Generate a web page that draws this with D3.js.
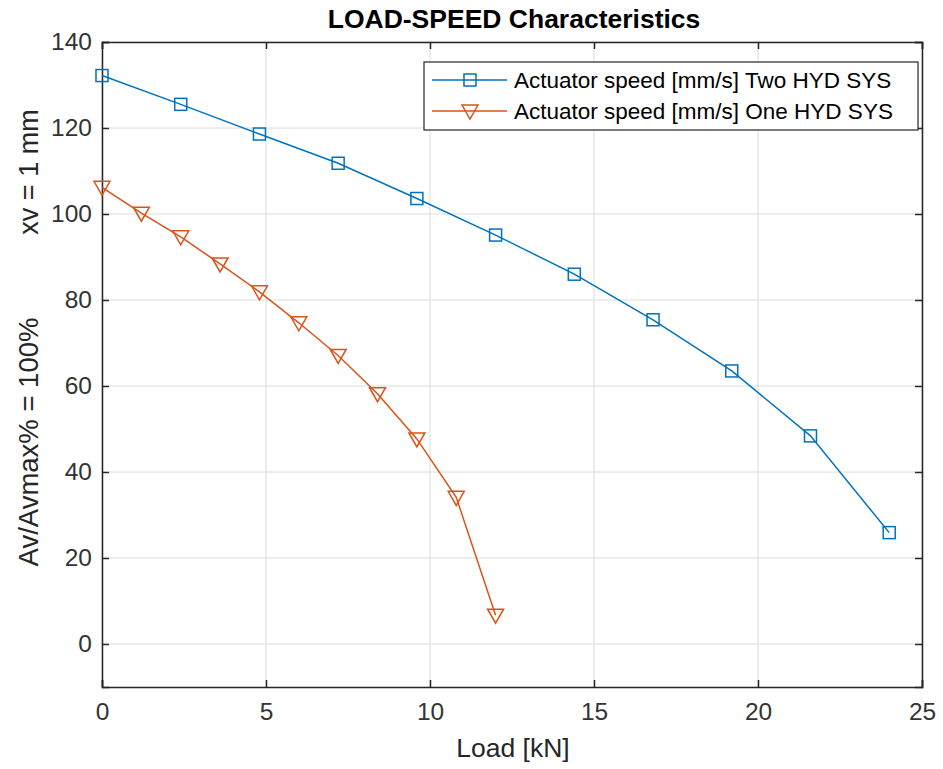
<!DOCTYPE html>
<html><head><meta charset="utf-8">
<script src="https://cdn.jsdelivr.net/npm/d3@7"></script>
<style>body{margin:0;background:#fff;} text{font-family:"Liberation Sans",Arial,sans-serif;}</style>
</head><body>
<svg id="c" width="943" height="769"></svg>
<script>
const loadTwo = [0, 2.4, 4.8, 7.2, 9.6, 12, 14.4, 16.8, 19.2, 21.6, 24];
const speedTwo = [132.2, 125.5, 118.6, 111.8, 103.6, 95.1, 86.0, 75.4, 63.5, 48.4, 25.9];
const loadOne = [0, 1.2, 2.4, 3.6, 4.8, 6.0, 7.2, 8.4, 9.6, 10.8, 12];
const speedOne = [106.2, 100.2, 94.7, 88.4, 81.9, 74.7, 67.1, 58.2, 47.7, 34.1, 6.7];
const xTicks = [0, 5, 10, 15, 20, 25];
const yTicks = [0, 20, 40, 60, 80, 100, 120, 140];
const seriesNames = ["Actuator speed [mm/s] Two HYD SYS", "Actuator speed [mm/s] One HYD SYS"];
const colors = ["#0072BD", "#D95319"];

const svg = d3.select("#c");
const L = 102, R = 922, T = 42, B = 687;
const x = d3.scaleLinear().domain([0, 25]).range([L, R]);
const y = d3.scaleLinear().domain([-10, 140]).range([B, T]);

// grid
const g = svg.append("g");
g.selectAll(".gx").data(xTicks).enter().append("line")
  .attr("x1", d => x(d)).attr("x2", d => x(d)).attr("y1", T).attr("y2", B)
  .attr("stroke", "#dcdcdc").attr("stroke-width", 1);
g.selectAll(".gy").data(yTicks).enter().append("line")
  .attr("x1", L).attr("x2", R).attr("y1", d => y(d)).attr("y2", d => y(d))
  .attr("stroke", "#dcdcdc").attr("stroke-width", 1);

// axes
const xAxis = d3.axisBottom(x).tickValues(xTicks).tickSize(-7).tickPadding(16).tickFormat(d3.format("d"));
const xAxisTop = d3.axisTop(x).tickValues(xTicks).tickSize(-7).tickFormat("");
const yAxis = d3.axisLeft(y).tickValues(yTicks).tickSize(-7).tickPadding(10).tickFormat(d3.format("d"));
const yAxisR = d3.axisRight(y).tickValues(yTicks).tickSize(-7).tickFormat("");
function style(sel){
  sel.select(".domain").attr("stroke", "#262626").attr("stroke-width", 1.5);
  sel.selectAll(".tick line").attr("stroke", "#262626").attr("stroke-width", 1.5);
  sel.selectAll(".tick text").attr("fill", "#333333").attr("font-size", "24.5px")
    .style("font-family", "Liberation Sans, Arial, sans-serif");
}
svg.append("g").attr("transform", `translate(0,${B})`).call(xAxis).call(style);
svg.append("g").attr("transform", `translate(0,${T})`).call(xAxisTop).call(style);
svg.append("g").attr("transform", `translate(${L},0)`).call(yAxis).call(style);
svg.append("g").attr("transform", `translate(${R},0)`).call(yAxisR).call(style);

// lines
const line = d3.line().x(d => x(d[0])).y(d => y(d[1]));
const dTwo = loadTwo.map((v, i) => [v, speedTwo[i]]);
const dOne = loadOne.map((v, i) => [v, speedOne[i]]);
svg.append("path").datum(dTwo).attr("d", line).attr("fill", "none").attr("stroke", colors[0]).attr("stroke-width", 1.5);
svg.append("path").datum(dOne).attr("d", line).attr("fill", "none").attr("stroke", colors[1]).attr("stroke-width", 1.5);

function square(sel, cx, cy, c){
  sel.append("rect").attr("x", cx - 6).attr("y", cy - 6).attr("width", 12).attr("height", 12)
    .attr("fill", "none").attr("stroke", c).attr("stroke-width", 1.5);
}
function tri(sel, cx, cy, c){
  sel.append("path").attr("d", `M${cx-8},${cy-6}L${cx+8},${cy-6}L${cx},${cy+8}Z`)
    .attr("fill", "none").attr("stroke", c).attr("stroke-width", 1.5);
}
dTwo.forEach(d => square(svg, x(d[0]), y(d[1]), colors[0]));
dOne.forEach(d => tri(svg, x(d[0]), y(d[1]), colors[1]));

// title & labels
svg.append("text").attr("x", 514).attr("y", 28).attr("text-anchor", "middle")
  .attr("font-size", "26.5px").attr("font-weight", "bold").attr("fill", "#000").text("LOAD-SPEED Characteristics");
svg.append("text").attr("x", 513).attr("y", 757).attr("text-anchor", "middle")
  .attr("font-size", "26.5px").attr("fill", "#262626").text("Load [kN]");
svg.append("text").attr("transform", "translate(38,442) rotate(-90)").attr("text-anchor", "middle")
  .attr("font-size", "27.5px").attr("fill", "#262626").text("Av/Avmax% = 100%");
svg.append("text").attr("transform", "translate(38,172) rotate(-90)").attr("text-anchor", "middle")
  .attr("font-size", "27px").attr("fill", "#262626").text("xv = 1 mm");

// legend
const lg = svg.append("g");
lg.append("rect").attr("x", 424).attr("y", 62).attr("width", 494).attr("height", 68)
  .attr("fill", "#fff").attr("stroke", "#262626").attr("stroke-width", 1.2);
const rows = [80, 111];
seriesNames.forEach((n, i) => {
  lg.append("line").attr("x1", 432).attr("x2", 507).attr("y1", rows[i]).attr("y2", rows[i])
    .attr("stroke", colors[i]).attr("stroke-width", 1.5);
  if (i === 0) square(lg, 470, rows[i], colors[i]); else tri(lg, 470, rows[i], colors[i]);
  lg.append("text").attr("x", 514).attr("y", rows[i] + 8).attr("font-size", "22.5px").attr("fill", "#000").text(n);
});
</script>
</body></html>
